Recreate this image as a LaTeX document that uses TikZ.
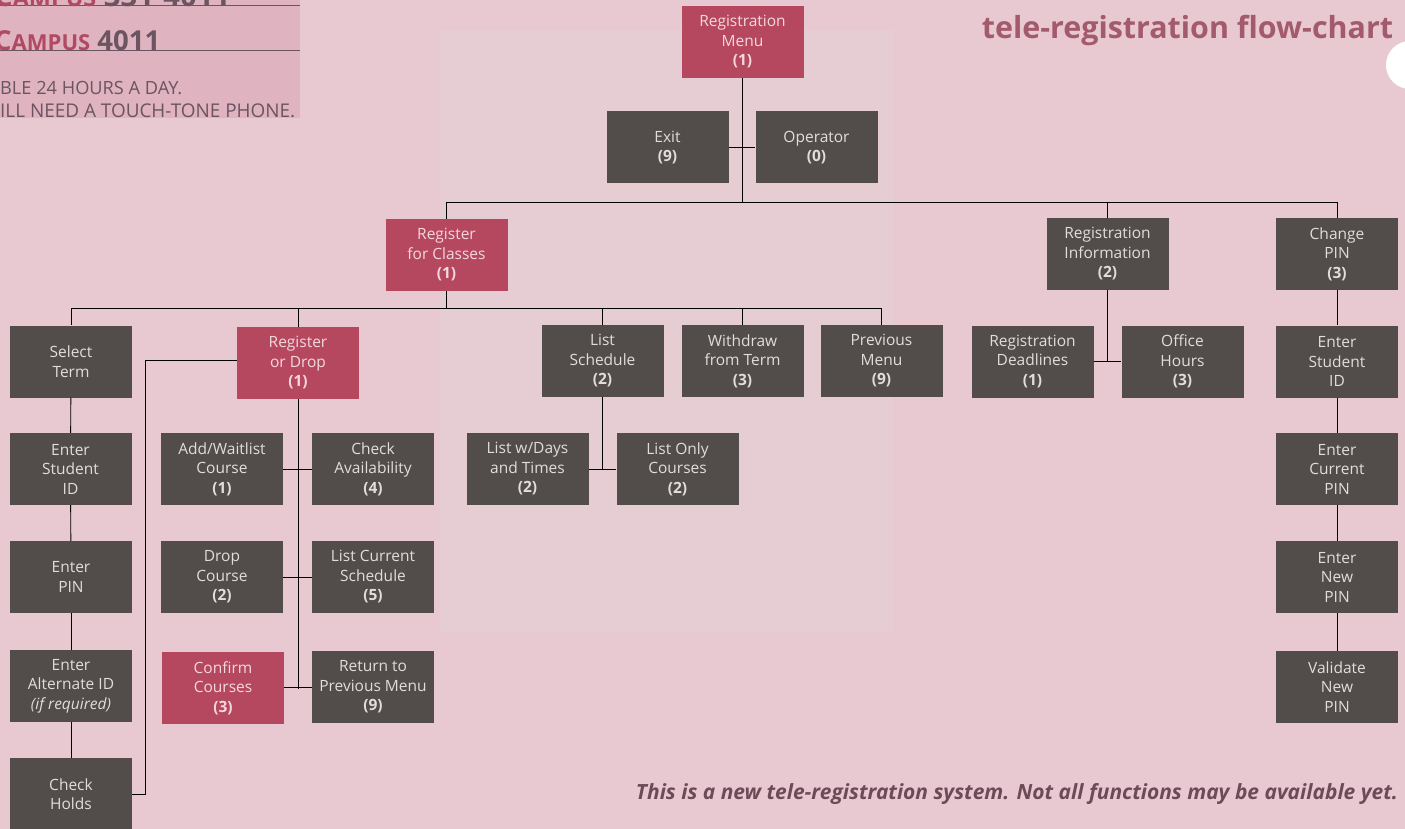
\documentclass[tikz,border=0pt]{standalone}
\usepackage{fontspec}
\setmainfont{Open Sans}
\usepackage{graphicx}
\definecolor{bg}{HTML}{E8C9D2}
\definecolor{panelgrey}{HTML}{E6CDD3}
\definecolor{toppanel}{HTML}{DFB3C0}
\definecolor{boxgrey}{HTML}{524D4A}
\definecolor{boxtext}{HTML}{E2DCDA}
\definecolor{boxred}{HTML}{B5485F}
\definecolor{redtext}{HTML}{F3D8DE}
\definecolor{titlecol}{HTML}{A35A6C}
\definecolor{footcol}{HTML}{6E4A58}
\definecolor{campred}{HTML}{B04A62}
\definecolor{panelink}{HTML}{6A5560}
\newcommand{\fitw}[2]{\resizebox{#1}{!}{#2}}
\tikzset{
  menubox/.style={minimum width=122, minimum height=72, inner sep=0pt, align=center,
    fill=boxgrey, text=boxtext, font=\fontsize{15.5}{19.5}\selectfont},
  redbox/.style={menubox, fill=boxred, text=redtext},
  conn/.style={draw=black, line width=0.9pt},
  paneltext/.style={anchor=west, inner sep=0pt, text=panelink}
}
\begin{document}
\begin{tikzpicture}[x=1pt,y=-1pt]
\useasboundingbox (0,0) rectangle (1405,829);
\fill[bg] (0,0) rectangle (1405,829);
\fill[panelgrey] (440,30) rectangle (893,632);
\fill[toppanel] (0,0) rectangle (300,118);
\fill[white] (1410,65) circle (24);
\draw[panelink, line width=0.8pt] (0,5) -- (300,5);
\draw[panelink, line width=0.8pt] (0,50) -- (300,50);
\node[paneltext] (camp1) at (-6,-4) {\fitw{236pt}{\textcolor{campred}{\bfseries C{\footnotesize AMPUS}} \bfseries 331-4011}};
\node[paneltext] (camp2) at (-6,41) {\fitw{166pt}{\textcolor{campred}{\bfseries C{\footnotesize AMPUS}} \bfseries 4011}};
\node[paneltext] (hours) at (0,88) {\fitw{182pt}{BLE 24 HOURS A DAY.}};
\node[paneltext] (phone) at (0,111) {\fitw{295pt}{ILL NEED A TOUCH-TONE PHONE.}};

\node[text=titlecol, inner sep=0pt] (title) at (1187.5,31) {\fitw{411pt}{\bfseries tele-registration flow-chart}};
\node[text=footcol, inner sep=0pt] (foot) at (1017,794) {\fitw{762pt}{\bfseries\itshape This is a new tele-registration system. Not all functions may be available yet.}};

% boxes
\node[redbox] (rm) at (742.5,42) {Registration\\Menu\\\textbf{(1)}};
\node[menubox] (exit) at (667.5,147.5) {Exit\\\textbf{(9)}};
\node[menubox] (op) at (816.5,147.5) {Operator\\\textbf{(0)}};

\node[redbox] (rc) at (446.5,255) {Register\\for Classes\\\textbf{(1)}};
\node[menubox] (ri) at (1107.5,254) {Registration\\Information\\\textbf{(2)}};
\node[menubox] (cp) at (1337,254) {Change\\PIN\\\textbf{(3)}};

\node[menubox] (st) at (71,361.5) {Select\\Term};
\node[redbox] (rd) at (298,363) {Register\\or Drop\\\textbf{(1)}};
\node[menubox] (ls) at (602.5,361) {List\\Schedule\\\textbf{(2)}};
\node[menubox] (wd) at (742.5,361) {Withdraw\\from Term\\\textbf{(3)}};
\node[menubox] (pm) at (881.5,361) {Previous\\Menu\\\textbf{(9)}};
\node[menubox] (rdl) at (1032.5,361.5) {Registration\\Deadlines\\\textbf{(1)}};
\node[menubox] (oh) at (1182.5,361.5) {Office\\Hours\\\textbf{(3)}};
\node[menubox] (esr) at (1337,361.5) {Enter\\Student\\ID};

\node[menubox] (esl) at (70.5,469) {Enter\\Student\\ID};
\node[menubox] (aw) at (222,469) {Add/Waitlist\\Course\\\textbf{(1)}};
\node[menubox] (ca) at (373,469) {Check\\Availability\\\textbf{(4)}};
\node[menubox] (lwd) at (527.5,469) {List w/Days\\and Times\\\textbf{(2)}};
\node[menubox] (loc) at (677.5,469) {List Only\\Courses\\\textbf{(2)}};
\node[menubox] (ecp) at (1337,469) {Enter\\Current\\PIN};

\node[menubox] (ep) at (71,577) {Enter\\PIN};
\node[menubox] (dc) at (222,577) {Drop\\Course\\\textbf{(2)}};
\node[menubox] (lcs) at (373,577) {List Current\\Schedule\\\textbf{(5)}};
\node[menubox] (enp) at (1337,577) {Enter\\New\\PIN};

\node[menubox] (ea) at (71,686) {Enter\\Alternate ID\\\textit{(if required)}};
\node[redbox] (cc) at (223,688) {Confirm\\Courses\\\textbf{(3)}};
\node[menubox] (rp) at (373,687) {Return to\\Previous Menu\\\textbf{(9)}};
\node[menubox] (vnp) at (1337,687) {Validate\\New\\PIN};

\node[menubox] (ch) at (71,794) {Check\\Holds};

% connectors
\coordinate (bus1) at (0,202);
\coordinate (bus2) at (0,308);
\coordinate (loop) at (145,360);

\draw[conn] (rm.south) -- (rm.south |- bus1);
\draw[conn] (exit.east) -- (op.west);
\draw[conn] (rc.north |- bus1) -- (cp.north |- bus1);
\draw[conn] (rc.north |- bus1) -- (rc.north);
\draw[conn] (ri.north |- bus1) -- (ri.north);
\draw[conn] (cp.north |- bus1) -- (cp.north);

\draw[conn] (rc.south) -- (rc.south |- bus2);
\draw[conn] (st.north |- bus2) -- (pm.north |- bus2);
\draw[conn] (st.north |- bus2) -- (st.north);
\draw[conn] (rd.north |- bus2) -- (rd.north);
\draw[conn] (ls.north |- bus2) -- (ls.north);
\draw[conn] (wd.north |- bus2) -- (wd.north);
\draw[conn] (pm.north |- bus2) -- (pm.north);

\draw[conn] (ls.south) -- (ls.south |- lwd.east);
\draw[conn] (lwd.east) -- (loc.west);

\draw[conn] (ri.south) -- (ri.south |- rdl.east);
\draw[conn] (rdl.east) -- (oh.west);

\draw[conn] (cp) -- (esr);
\draw[conn] (esr) -- (ecp);
\draw[conn] (ecp) -- (enp);
\draw[conn] (enp) -- (vnp);

\draw[conn] (st) -- (esl);
\draw[conn] (esl) -- (ep);
\draw[conn] (ep) -- (ea);
\draw[conn] (ea) -- (ch);

\draw[conn] (ch.east) -| (loop) -- (rd.west |- loop);

\draw[conn] (rd.south) -- ([yshift=-2pt]rd.south |- rp.west);
\draw[conn] (aw.east) -- (ca.west);
\draw[conn] (dc.east) -- (lcs.west);
\draw[conn] (cc.east |- rp.west) -- (rp.west);
\end{tikzpicture}
\end{document}
